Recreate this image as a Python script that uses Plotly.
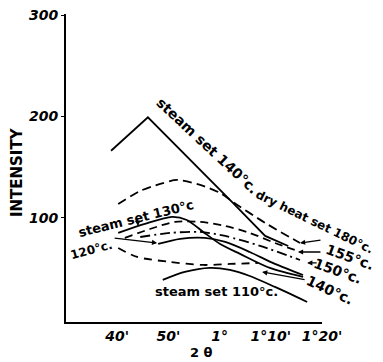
import plotly.graph_objects as go

# x in minutes of arc (2 theta), y = intensity
steam140_x = [38.8, 46.0, 62.6, 68.9, 73.4]
steam140_y = [166, 199, 114.5, 82, 72]

dry180_x = [40.2, 44.5, 48.4, 51.7, 56.2, 60.1, 62.6, 68.9, 75.7]
dry180_y = [113.5, 126.4, 133.3, 137.2, 132.3, 124.4, 115.5, 94.8, 75.0]

steam130_x = [40.2, 45.4, 50.7, 53.6, 56.8, 60.1, 64.0, 69.8, 76.3]
steam130_y = [84.9, 93.8, 100.7, 97.7, 85.9, 74.0, 64.2, 50.4, 41.5]

curve120_x = [48.0, 52.3, 57.1, 61.1, 65.9, 70.8, 76.3]
curve120_y = [74.0, 79.0, 80.0, 76.0, 66.1, 54.3, 43.4]

dry155_x = [41.5, 46.4, 51.3, 56.2, 61.1, 65.9, 70.8, 75.3]
dry155_y = [80.0, 88.8, 95.8, 95.8, 91.8, 84.9, 75.0, 67.1]

dry150_x = [44.5, 50.3, 56.2, 61.1, 67.9, 75.7]
dry150_y = [80.9, 84.9, 85.9, 81.9, 72.1, 58.2]

dry140_x = [40.2, 43.9, 50.3, 56.8, 62.0, 67.5]
dry140_y = [70.1, 61.2, 56.3, 53.3, 54.3, 55.3]

steam110_x = [48.9, 53.2, 58.1, 62.0, 65.9, 70.8, 77.1]
steam110_y = [38.5, 46.4, 50.4, 48.4, 42.4, 31.6, 16.8]

x_tickvals = [40, 50, 60, 70, 80]
x_ticktext = ["40'", "50'", "1°", "1°10'", "1°20'"]
y_tickvals = [100, 200, 300]
y_ticktext = ["100", "200", "300"]

FONT = "DejaVu Sans"
LW = 1.8

fig = go.Figure()

def add(x, y, dash="solid", shape="spline"):
    fig.add_trace(go.Scatter(
        x=x, y=y, mode="lines",
        line=dict(color="black", width=LW, dash=dash, shape=shape, smoothing=0.8),
        showlegend=False, hoverinfo="skip"))

add(steam140_x, steam140_y, shape="linear")
add(dry180_x, dry180_y, dash="9px,5px")
add(steam130_x, steam130_y)
add(curve120_x, curve120_y)
add(dry155_x, dry155_y, dash="8px,5px")
add(dry150_x, dry150_y, dash="10px,4px,2px,4px")
add(dry140_x, dry140_y, dash="8px,6px")
add(steam110_x, steam110_y)

annotations = []
# labels positioned in data coordinates
labels = [
    ("steam set 140°c.", 57.7, 170.8, 43, 14),
    ("dry heat set 180°c.", 78.6, 96.0, 26, 12),
    ("steam set 130°c", 43.7, 98.7, -14, 13),
    ("120°c.", 34.9, 68.1, -15, 12),
    ("steam set 110°c.", 59.3, 27.6, 0, 13),
]
for t, x, y, ang, sz in labels:
    annotations.append(dict(
        text=t, x=x, y=y, xref="x", yref="y", showarrow=False,
        textangle=ang, xanchor="center", yanchor="middle",
        font=dict(family=FONT, size=sz, color="black", weight="bold")))

# labels beyond the axis range, positioned in paper coordinates
side_labels = [
    ("155°c.", 1.109, 0.211, 20, 14),
    ("150°c.", 1.0625, 0.166, 20, 14),
    ("140°c.", 1.031, 0.104, 25, 14),
]
for t, x, y, ang, sz in side_labels:
    annotations.append(dict(
        text=t, x=x, y=y, xref="paper", yref="paper", showarrow=False,
        textangle=ang, xanchor="center", yanchor="middle",
        font=dict(family=FONT, size=sz, color="black", weight="bold")))

# pointer arrows from labels to curves
arrows = [
    (75.7, 75.0, 22, -3),
    (75.3, 66.1, 24, 0),
    (77.1, 55.3, 11, 0),
    (68.3, 46.4, 44, 8),
    (47.8, 75.0, -44, -5),
    (44.1, 91.8, -1, -8),
]
for x, y, ax, ay in arrows:
    annotations.append(dict(
        text="", x=x, y=y, xref="x", yref="y", showarrow=True,
        ax=ax, ay=ay, arrowhead=2, arrowsize=0.8, arrowwidth=1.3,
        arrowcolor="black"))

annotations.append(dict(
    text="INTENSITY", x=-0.191, y=0.487, xref="paper", yref="paper",
    showarrow=False, textangle=-90, xanchor="center", yanchor="middle",
    font=dict(family=FONT, size=15, color="black", weight="bold")))
annotations.append(dict(
    text="2 θ", x=0.531, y=-0.1006, xref="paper", yref="paper",
    showarrow=False, xanchor="center", yanchor="middle",
    font=dict(family=FONT, size=13, color="black", weight="bold")))

fig.update_layout(
    width=375, height=354,
    margin=dict(l=58, r=61, t=6, b=40, autoexpand=False),
    paper_bgcolor="white", plot_bgcolor="white",
    annotations=annotations,
    xaxis=dict(range=[30, 80], showgrid=False, zeroline=False,
               showline=True, linecolor="black", linewidth=2,
               tickvals=x_tickvals, ticktext=x_ticktext, ticks="",
               automargin=False, ticklabeloverflow="allow",
               tickfont=dict(family=FONT, size=14, color="black",
                             weight="bold", style="italic")),
    yaxis=dict(range=[-3, 301], showgrid=False, zeroline=False,
               showline=True, linecolor="black", linewidth=2,
               tickvals=y_tickvals, ticktext=y_ticktext, ticks="outside",
               ticklen=3, tickcolor="black", automargin=False,
               ticklabeloverflow="allow",
               tickfont=dict(family=FONT, size=14, color="black",
                             weight="bold", style="italic")),
)

fig.write_html("out.html")
